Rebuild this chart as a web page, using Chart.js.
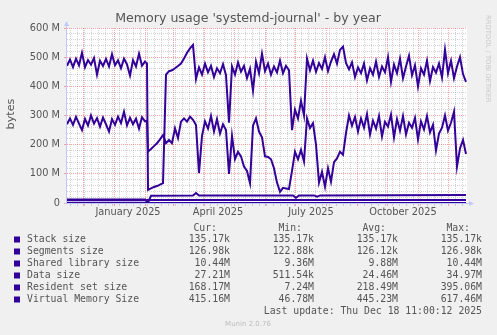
<!DOCTYPE html>
<html>
<head>
<meta charset="utf-8">
<script src="https://cdn.jsdelivr.net/npm/chart.js@4"></script>
<style>
  html, body { margin: 0; padding: 0; background: #f0f0f0; }
  canvas { display: block; }
</style>
</head>
<body>
<canvas id="chart" width="497" height="335"></canvas>
<script>
// days since the left edge of the graph (400 day window ending Dec 18 2025)
const days = [
  0, 3, 6, 9, 12, 15, 18, 21, 24, 27, 30, 33, 36, 39, 42, 45, 48, 51, 54, 57,
  60, 63, 66, 69, 72, 75, 78, 80, 81, 84, 87, 90, 93, 96, 99, 102, 105, 108, 111, 114, 117,
  120, 123, 126, 129, 132, 135, 138, 141, 144, 147, 150, 153, 156, 159, 162, 165, 168, 171, 174, 177,
  180, 183, 186, 189, 192, 195, 198, 201, 204, 207, 210, 213, 216, 219, 222, 225, 228, 231, 234, 237,
  240, 243, 246, 249, 252, 255, 258, 261, 264, 267, 270, 273, 276, 279, 282, 285, 288, 291, 294, 297,
  300, 303, 306, 309, 312, 315, 318, 321, 324, 327, 330, 333, 336, 339, 342, 345, 348, 351, 354, 357,
  360, 363, 366, 369, 372, 375, 378, 381, 384, 387, 390, 393, 396, 399
];

// values in M (bytes / 1e6)
const virtualMemory = [
  470, 492, 466, 495, 472, 515, 466, 490, 474, 497, 440, 488, 470, 494, 468, 510, 472, 489, 462, 495,
  475, 437, 490, 468, 512, 471, 485, 478,
  45, 50, 55, 58, 63, 68, 440, 452, 455, 462, 470, 478, 495, 515, 530, 542, 425,
  465, 440, 478, 448, 470, 432, 462, 445, 476, 438, 275,
  468, 440, 482, 450, 470, 428, 460, 385, 485, 445, 512, 452, 478, 440, 468, 448, 488, 445, 470, 455,
  250, 320, 290, 350, 300,
  495, 455, 488, 450, 480, 460, 500, 452, 485, 510, 478, 525, 536, 480, 458, 482, 432, 465, 445, 478,
  420, 462, 440, 485, 432, 468, 448, 500, 415, 475, 445, 495, 428, 468, 505, 438, 472, 400, 462, 440,
  488, 418, 466, 447, 478, 430, 525, 445, 488, 428, 468, 500, 442, 415
];

const residentSet = [
  270, 290, 268, 295, 272, 250, 288, 266, 300, 272, 291, 262, 293, 270, 245, 288, 268, 296, 274, 313,
  266, 292, 270, 289, 255, 294, 280, 282,
  176, 185, 195, 205, 218, 233, 205, 216, 205, 256, 223, 279, 290, 279, 296, 285, 267, 102, 230,
  280, 255, 298, 245, 288, 238, 270,
  250, 100, 230, 150, 175, 160, 125, 110, 68, 265, 290, 245, 225, 160, 158, 150, 119, 70, 38, 52, 50, 48,
  110, 176, 150, 182, 142, 290, 257, 274, 200, 70, 107, 56, 119, 73, 140, 153, 176, 165, 240, 300,
  265, 295, 245, 290, 258, 305, 235, 282, 255, 298, 228, 278, 262, 303, 225, 288, 248, 298, 235, 275,
  258, 292, 218, 280, 252, 298, 242, 268, 180, 238, 258, 300, 248, 275, 313, 125, 187, 216, 168
];

const dataDays = [0, 78, 81, 84, 126, 129, 132, 226, 229, 232, 247, 250, 253, 399];
const dataSize = [12, 12, 0.5, 25, 26, 34, 26, 26, 18, 26, 26, 22, 26, 27.21];

const sharedDays = [0, 78, 81, 399];
const sharedLibrary = [9.36, 9.4, 10.1, 10.44];

const segmentsDays = [0, 78, 81, 399];
const segmentsSize = [0.1229, 0.1229, 0.127, 0.127];

const stackDays = [0, 399];
const stackSize = [0.135, 0.135];

// axis ticks
const monthDays = [16, 47, 78, 106, 137, 167, 198, 228, 259, 290, 320, 351, 381];
const weekDays = [3, 10, 17, 24, 31, 38, 45, 52, 59, 66, 73, 80, 87, 94, 101, 108, 115, 122, 129, 136,
  143, 150, 157, 164, 171, 178, 185, 192, 199, 206, 213, 220, 227, 234, 241, 248, 255, 262, 269, 276,
  283, 290, 297, 304, 311, 318, 325, 332, 339, 346, 353, 360, 367, 374, 381, 388, 395];
const labelDays = [61, 151, 244, 336];
const labelTexts = ['January 2025', 'April 2025', 'July 2025', 'October 2025'];

// legend table
const legendLabels = ['Stack size', 'Segments size', 'Shared library size', 'Data size', 'Resident set size', 'Virtual Memory Size'];
const legendCur = ['135.17k', '126.98k', '10.44M', '27.21M', '168.17M', '415.16M'];
const legendMin = ['135.17k', '122.88k', '9.36M', '511.54k', '7.24M', '46.78M'];
const legendAvg = ['135.17k', '126.12k', '9.88M', '24.46M', '218.49M', '445.23M'];
const legendMax = ['135.17k', '126.98k', '10.44M', '34.97M', '395.06M', '617.46M'];

const LINE = '#330099';
const TEXT = '#555555';
const AXIS = '#c0c8ff';
const MAJOR = 'rgba(255, 0, 0, 0.35)';
const MINOR = 'rgba(128, 128, 128, 0.35)';

function pts(xs, ys) {
  return xs.map((x, i) => ({ x: x, y: ys[i] }));
}

const xTicks = Array.from(new Set([...weekDays, ...monthDays, ...labelDays])).sort((a, b) => a - b);

function xGridColor(v) {
  if (labelDays.includes(v)) return 'rgba(0,0,0,0)';
  return monthDays.includes(v) ? MAJOR : MINOR;
}

const muninDecor = {
  id: 'muninDecor',
  beforeDraw(chart) {
    const { ctx, chartArea: a } = chart;
    ctx.save();
    ctx.fillStyle = '#f0f0f0';
    ctx.fillRect(0, 0, chart.width, chart.height);
    ctx.fillStyle = '#ffffff';
    ctx.fillRect(a.left, a.top, a.right - a.left, a.bottom - a.top);
    ctx.restore();
  },
  afterDatasetsDraw(chart) {
    const { ctx, chartArea: a } = chart;
    ctx.save();
    ctx.strokeStyle = AXIS;
    ctx.fillStyle = AXIS;
    ctx.lineWidth = 1;
    ctx.beginPath();
    ctx.moveTo(a.left - 0.5, a.bottom + 1);
    ctx.lineTo(a.left - 0.5, a.top - 2);
    ctx.moveTo(a.left - 2, a.bottom + 0.5);
    ctx.lineTo(a.right + 2, a.bottom + 0.5);
    ctx.stroke();
    // arrows
    ctx.beginPath();
    ctx.moveTo(a.left - 3, a.top - 2);
    ctx.lineTo(a.left + 2, a.top - 2);
    ctx.lineTo(a.left - 0.5, a.top - 7);
    ctx.closePath();
    ctx.fill();
    ctx.beginPath();
    ctx.moveTo(a.right + 2, a.bottom - 2);
    ctx.lineTo(a.right + 2, a.bottom + 3);
    ctx.lineTo(a.right + 7, a.bottom + 0.5);
    ctx.closePath();
    ctx.fill();
    ctx.restore();
  },
  afterDraw(chart) {
    const ctx = chart.ctx;
    ctx.save();
    ctx.fillStyle = TEXT;
    ctx.textBaseline = 'middle';

    ctx.font = '12.6px "DejaVu Sans"';
    ctx.textAlign = 'center';
    ctx.fillText("Memory usage 'systemd-journal' - by year", 248, 19);

    ctx.save();
    ctx.translate(11, 114);
    ctx.rotate(-Math.PI / 2);
    ctx.font = '11.2px "DejaVu Sans"';
    ctx.fillText('bytes', 0, 0);
    ctx.restore();

    ctx.save();
    ctx.translate(487.5, 15);
    ctx.rotate(Math.PI / 2);
    ctx.font = '6.8px "DejaVu Sans"';
    ctx.fillStyle = '#c8c8c8';
    ctx.textAlign = 'left';
    ctx.fillText('RRDTOOL / TOBI OETIKER', 0, 0);
    ctx.restore();

    ctx.font = '9.8px "DejaVu Sans Mono"';
    ctx.textAlign = 'right';
    ctx.fillText('Cur:', 217, 228);
    ctx.fillText('Min:', 302, 228);
    ctx.fillText('Avg:', 386, 228);
    ctx.fillText('Max:', 470, 228);

    legendLabels.forEach((name, i) => {
      const y = 239.5 + i * 12;
      ctx.fillStyle = LINE;
      ctx.fillRect(14, y - 3, 6, 6);
      ctx.fillStyle = TEXT;
      ctx.textAlign = 'left';
      ctx.fillText(name, 27, y);
      ctx.textAlign = 'right';
      ctx.fillText(legendCur[i], 230, y);
      ctx.fillText(legendMin[i], 314, y);
      ctx.fillText(legendAvg[i], 398, y);
      ctx.fillText(legendMax[i], 482, y);
    });
    ctx.fillText('Last update: Thu Dec 18 11:00:12 2025', 482, 311.5);

    ctx.font = '7px "DejaVu Sans"';
    ctx.fillStyle = '#bdbdbd';
    ctx.textAlign = 'center';
    ctx.fillText('Munin 2.0.76', 248, 324.5);
    ctx.restore();
  }
};

function series(label, data) {
  return {
    label: label,
    data: data,
    borderColor: LINE,
    backgroundColor: LINE,
    borderWidth: 2,
    pointRadius: 0,
    fill: false,
    tension: 0
  };
}

new Chart(document.getElementById('chart').getContext('2d'), {
  type: 'line',
  data: {
    datasets: [
      series(legendLabels[0], pts(stackDays, stackSize)),
      series(legendLabels[1], pts(segmentsDays, segmentsSize)),
      series(legendLabels[2], pts(sharedDays, sharedLibrary)),
      series(legendLabels[3], pts(dataDays, dataSize)),
      series(legendLabels[4], pts(days, residentSet)),
      series(legendLabels[5], pts(days, virtualMemory))
    ]
  },
  options: {
    responsive: false,
    animation: false,
    layout: { padding: { left: 0, top: 28, right: 30, bottom: 112 } },
    plugins: {
      legend: { display: false },
      tooltip: { enabled: false },
      title: { display: false }
    },
    scales: {
      x: {
        type: 'linear',
        min: 0,
        max: 400,
        afterBuildTicks(scale) {
          scale.ticks = xTicks.map(v => ({ value: v }));
        },
        afterFit(scale) { scale.height = 20; },
        grid: {
          color: ctx => xGridColor(ctx.tick.value),
          tickColor: ctx => xGridColor(ctx.tick.value),
          tickLength: 3,
          lineWidth: 1
        },
        border: { display: false, dash: [1, 1] },
        ticks: {
          autoSkip: false,
          maxRotation: 0,
          minRotation: 0,
          padding: 1,
          color: TEXT,
          font: { family: 'DejaVu Sans', size: 9.8 },
          callback: v => {
            const k = labelDays.indexOf(v);
            return k >= 0 ? labelTexts[k] : '';
          }
        }
      },
      y: {
        type: 'linear',
        min: 0,
        max: 600,
        afterFit(scale) { scale.width = 67; },
        grid: {
          color: ctx => (ctx.tick.value % 100 === 0 ? MAJOR : MINOR),
          tickColor: ctx => (ctx.tick.value % 100 === 0 ? MAJOR : 'rgba(0,0,0,0)'),
          tickLength: 3,
          lineWidth: 1
        },
        border: { display: false, dash: [1, 1] },
        ticks: {
          stepSize: 20,
          maxTicksLimit: 40,
          autoSkip: false,
          padding: 4,
          color: TEXT,
          font: { family: 'DejaVu Sans', size: 9.8 },
          callback: v => (v % 100 === 0 ? (v === 0 ? '0' : v + ' M') : '')
        }
      }
    }
  },
  plugins: [muninDecor]
});
</script>
</body>
</html>
